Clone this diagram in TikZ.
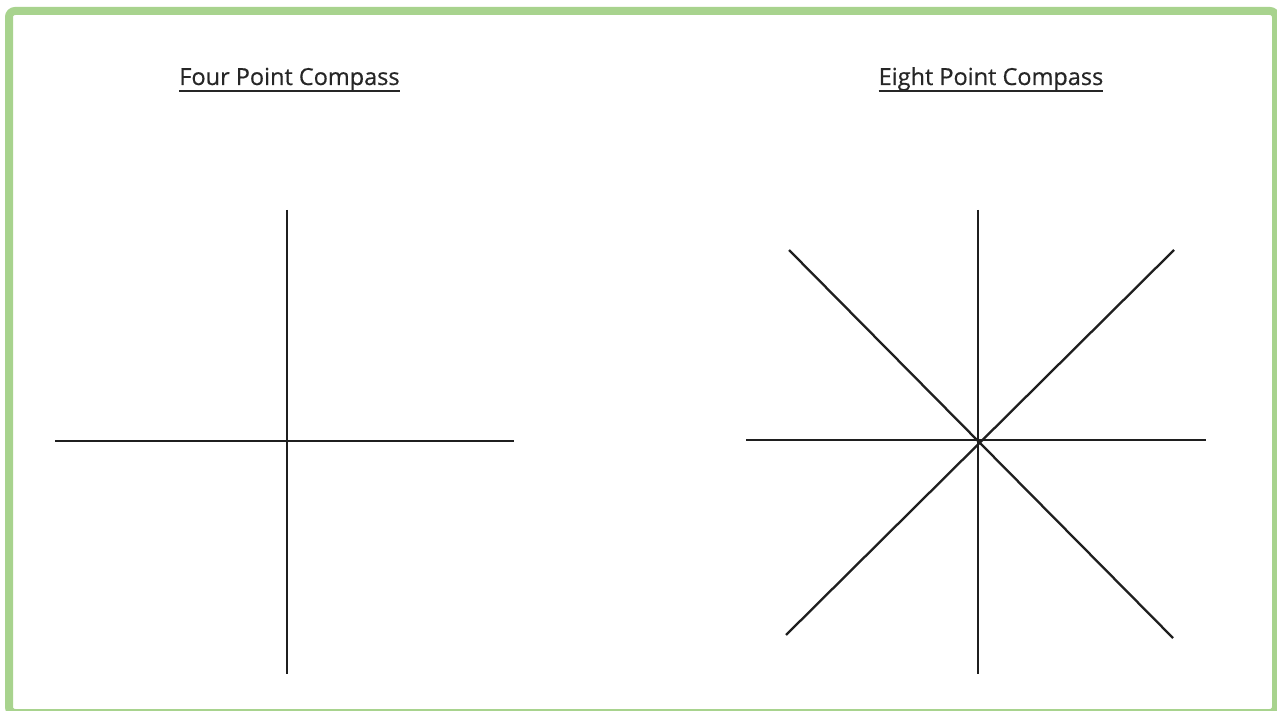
\documentclass[tikz,border=0pt]{standalone}
\usepackage{fontspec}
\setmainfont{Open Sans}
\newfontfamily\titlefont{Open Sans}[FakeBold=0.5]
\newcommand{\ulthick}[1]{\setbox0\hbox{#1}\rlap{\raisebox{-7pt}{\rule{\wd0}{2pt}}}\copy0}
\definecolor{framegreen}{RGB}{168,211,142}
\begin{document}
\begin{tikzpicture}[x=1pt,y=-1pt,
  ray/.style={line width=2.3pt,black!88,line cap=butt},
  title/.style={font=\titlefont\fontsize{23.5}{28}\selectfont,text=black!85,inner sep=0pt,anchor=base}]
\useasboundingbox (0,0) rectangle (1277,711);
\fill[white] (0,0) rectangle (1277,711);
\begin{scope}
\clip (0,0) rectangle (1277,711);
\draw[framegreen,line width=8pt,rounded corners=6pt] (9,11) rectangle (1276,713);
\end{scope}
\node[title] (t1) at (289.5,85) {\ulthick{Four Point Compass}};
\node[title] (t2) at (991,85) {\ulthick{Eight Point Compass}};
% four point
\coordinate (an) at (287,210);
\coordinate (as) at (287,674);
\coordinate (aw) at (55,441);
\coordinate (ae) at (514,441);
\draw[ray] (an) -- (as);
\draw[ray] (aw) -- (ae);
% eight point
\coordinate (bn) at (978,210);
\coordinate (bs) at (978,674);
\coordinate (bw) at (746,440);
\coordinate (be) at (1206,440);
\coordinate (bnw) at (789,250);
\coordinate (bse) at (1173,638);
\coordinate (bne) at (1174,250);
\coordinate (bsw) at (786,635);
\draw[ray] (bn) -- (bs);
\draw[ray] (bw) -- (be);
\draw[ray] (bnw) -- (bse);
\draw[ray] (bne) -- (bsw);
\end{tikzpicture}
\end{document}
